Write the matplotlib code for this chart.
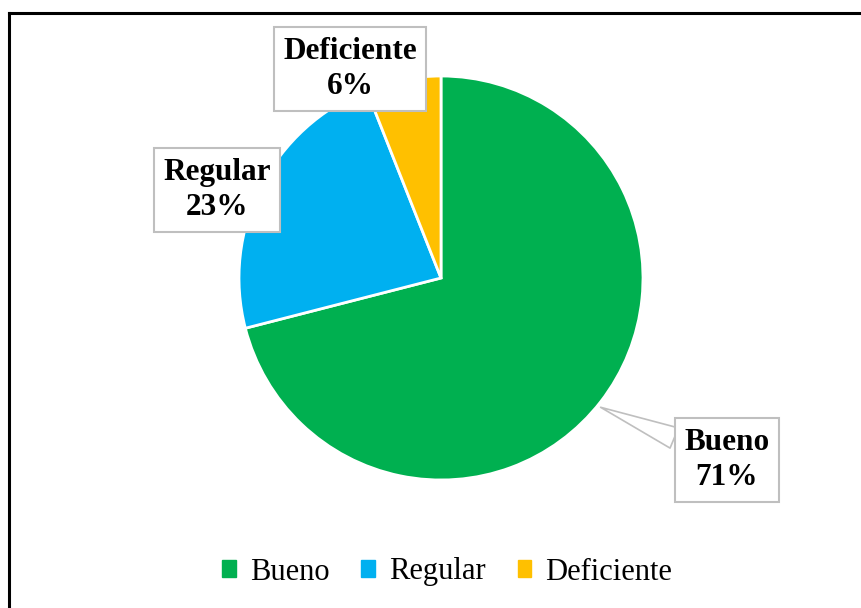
import matplotlib.pyplot as plt
from matplotlib.lines import Line2D

categorias = ['Bueno', 'Regular', 'Deficiente']
porcentajes = [71, 23, 6]
colores = ['#00B050', '#00B0F0', '#FFC000']

plt.rcParams['font.family'] = ['Liberation Serif', 'DejaVu Serif']

fig = plt.figure(figsize=(8.62, 6.08), dpi=100)

# marco (solo se ven borde superior e izquierdo)
fig.add_artist(Line2D([9.5 / 862, 9.5 / 862], [0, 1 - 12.5 / 608], color='black', lw=2.2))
fig.add_artist(Line2D([9.5 / 862, 1], [1 - 12.5 / 608, 1 - 12.5 / 608], color='black', lw=2.2))

ax = fig.add_axes([239 / 862, 128 / 608, 404 / 862, 404 / 608])
wedges, _ = ax.pie(porcentajes, colors=colores, startangle=90, counterclock=False,
                   radius=1, wedgeprops=dict(edgecolor='white', linewidth=2))
ax.set_xlim(-1, 1)
ax.set_ylim(-1, 1)
ax.set_aspect('auto')
ax.axis('off')

caja = dict(boxstyle='square,pad=0.3', fc='white', ec='#BFBFBF', lw=1.5)
# posiciones de las etiquetas (fraccion de la figura)
pos_etiquetas = [(727 / 862, 1 - 460 / 608), (217 / 862, 1 - 190 / 608), (350 / 862, 1 - 69 / 608)]
for cat, val, pos in zip(categorias, porcentajes, pos_etiquetas):
    txt = f'{cat}\n{val}%'
    if cat == 'Bueno':
        ax.annotate(txt, xy=(0.79, -0.64), xycoords='data', xytext=pos, textcoords='figure fraction',
                    ha='center', va='center', fontsize=22.5, fontweight='bold', bbox=caja,
                    linespacing=1.3,
                    arrowprops=dict(arrowstyle='wedge,tail_width=0.7,shrink_factor=0.5',
                                    fc='white', ec='#BFBFBF', lw=1.2, shrinkA=0, shrinkB=0))
    else:
        fig.text(pos[0], pos[1], txt, ha='center', va='center', fontsize=22.5,
                 fontweight='bold', bbox=caja, linespacing=1.3)

handles = [plt.Rectangle((0, 0), 1, 1, color=c) for c in colores]
fig.legend(handles, categorias, loc='center', bbox_to_anchor=(447 / 862, 1 - 572 / 608), ncol=3,
           frameon=False, fontsize=22, handlelength=0.45, handleheight=0.45,
           handletextpad=0.45, columnspacing=1.05)

fig.savefig('out.png', dpi=100)
